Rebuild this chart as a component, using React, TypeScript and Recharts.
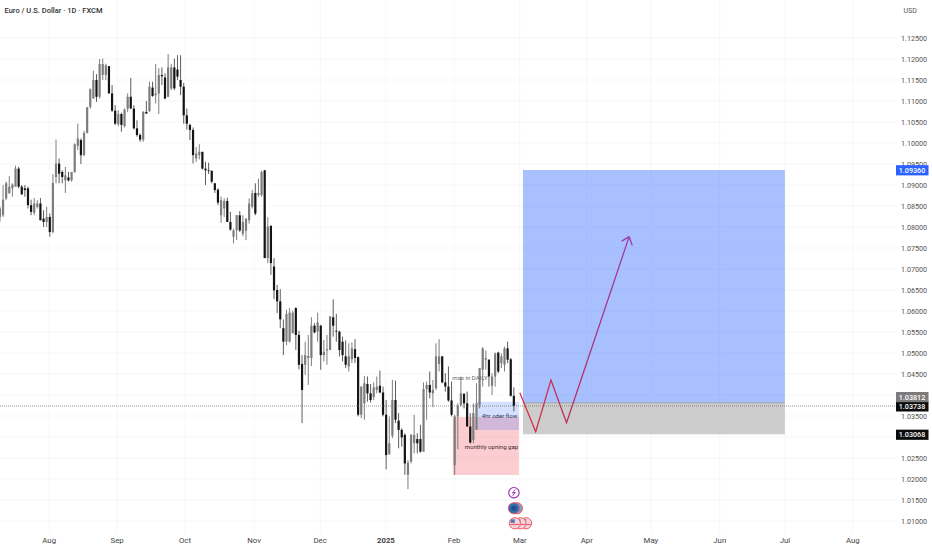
import React from "react";
import {
  Bar, CartesianGrid, ComposedChart, Line, ReferenceArea, ReferenceDot, ReferenceLine, XAxis, YAxis,
} from "recharts";

// Prices are quoted in units of 0.0001 (1 pip); one entry per daily candle.
const opens = [
  10824,10828,10868,10880,10892,10896,10939,10896,10892,10892,10852,10834,10848,10856,10820,10812,10824,10788,10919,10951,
  10931,10911,10918,10911,10931,10993,11007,10971,11024,11086,11106,11150,11110,11162,11162,11183,11118,11077,11045,11069,
  11040,11082,11110,11082,11035,11019,11008,11074,11076,11132,11114,11118,11162,11156,11110,11130,11180,11175,11150,11134,
  11066,11043,11031,10963,10971,10979,10939,10935,10934,10904,10889,10828,10844,10862,10812,10777,10792,10828,10784,10791,
  10816,10848,10881,10876,10876,10935,10726,10803,10706,10650,10623,10559,10527,10527,10547,10607,10543,10474,10472,10488,
  10488,10565,10551,10565,10495,10506,10507,10585,10553,10551,10527,10492,10468,10485,10509,10490,10353,10380,10426,10404,
  10395,10412,10422,10406,10353,10260,10303,10388,10339,10317,10305,10210,10241,10285,10295,10295,10265,10414,10424,10404,
  10416,10474,10492,10430,10420,10387,10233,10349,10376,10403,10380,10325,10293,10317,10376,10460,10484,10484,10422,10444,
  10501,10476,10472,10511,10485,10398,
];
const highs = [
  10848,10900,10908,10921,10904,10946,10943,10900,10900,10896,10865,10869,10864,10869,10840,10848,10832,10926,11008,10963,
  10935,10943,10931,10931,10999,11046,11011,11029,11086,11130,11172,11164,11200,11201,11189,11183,11138,11090,11078,11072,
  11082,11118,11155,11090,11054,11023,11076,11100,11146,11146,11188,11178,11180,11166,11212,11188,11201,11209,11209,11143,
  11082,11046,11037,10991,10997,10979,10955,10953,10934,10905,10892,10872,10868,10870,10836,10796,10828,10838,10828,10820,
  10868,10888,10904,10915,10934,10936,10823,10803,10726,10662,10652,10580,10603,10607,10601,10609,10553,10495,10527,10543,
  10585,10571,10596,10567,10531,10543,10588,10628,10593,10553,10539,10530,10523,10525,10533,10492,10420,10445,10444,10426,
  10430,10444,10458,10420,10388,10349,10436,10434,10357,10321,10309,10245,10307,10353,10309,10329,10430,10432,10456,10436,
  10523,10533,10492,10452,10468,10432,10353,10380,10444,10404,10408,10357,10380,10428,10464,10514,10506,10485,10452,10501,
  10503,10499,10515,10527,10488,10418,
];
const lows = [
  10812,10824,10864,10880,10872,10896,10892,10876,10872,10844,10828,10828,10844,10816,10800,10800,10777,10785,10904,10904,
  10904,10881,10908,10908,10929,10983,10950,10969,11023,11082,11106,11098,11106,11150,11150,11118,11074,11043,11040,11027,
  11037,11074,11082,11032,11015,11003,11003,11070,11074,11110,11094,11069,11138,11104,11110,11126,11126,11150,11114,11046,
  11032,11007,10951,10955,10961,10937,10900,10926,10904,10881,10852,10810,10824,10812,10791,10761,10769,10788,10778,10769,
  10808,10844,10828,10872,10872,10726,10714,10686,10628,10595,10559,10495,10519,10525,10547,10507,10461,10333,10448,10424,
  10469,10547,10527,10460,10480,10472,10523,10539,10527,10492,10480,10464,10456,10476,10476,10349,10345,10341,10384,10382,
  10388,10404,10404,10349,10223,10257,10297,10333,10273,10277,10210,10176,10237,10261,10261,10263,10265,10341,10392,10371,
  10412,10456,10428,10408,10384,10349,10210,10271,10374,10368,10325,10284,10285,10317,10368,10420,10460,10420,10400,10420,
  10452,10464,10456,10476,10396,10361,
];
const closes = [
  10844,10865,10904,10896,10901,10939,10896,10878,10888,10852,10836,10856,10856,10816,10812,10824,10788,10905,10951,10927,
  10919,10923,10911,10931,10997,11011,10971,11024,11085,11128,11150,11110,11188,11188,11185,11118,11077,11046,11069,11043,
  11080,11110,11082,11035,11019,11008,11074,11070,11134,11112,11118,11162,11159,11106,11180,11180,11130,11158,11134,11066,
  11046,11031,10971,10975,10979,10939,10935,10934,10908,10888,10858,10864,10862,10812,10794,10792,10828,10792,10812,10820,
  10856,10880,10832,10881,10931,10726,10801,10714,10649,10623,10580,10527,10593,10596,10596,10543,10472,10412,10495,10493,
  10565,10549,10573,10495,10503,10509,10587,10565,10551,10507,10495,10472,10492,10511,10488,10353,10420,10428,10404,10388,
  10418,10420,10406,10353,10257,10285,10388,10341,10317,10299,10237,10239,10305,10305,10285,10265,10414,10424,10406,10412,
  10492,10492,10430,10420,10387,10353,10349,10374,10404,10380,10325,10287,10357,10380,10464,10511,10488,10444,10444,10499,
  10456,10492,10511,10484,10398,10374,
];

const priceTicks = [
  1.01,1.015,1.02,1.025,1.035,1.045,1.05,1.055,1.06,1.065,1.07,1.075,1.08,1.085,
  1.09,1.095,1.10,1.105,1.11,1.115,1.12,1.125,
];
const gridPrices = [
  1.01,1.015,1.02,1.025,1.03,1.035,1.04,1.045,1.05,1.055,1.06,1.065,1.07,1.075,1.08,1.085,
  1.09,1.095,1.10,1.105,1.11,1.115,1.12,1.125,
];
const monthLabels = ["Aug","Sep","Oct","Nov","Dec","2025","Feb","Mar","Apr","May","Jun","Jul","Aug"];
const monthBars = [15.8,37.6,59.4,81.6,102.8,123.9,145.8,166.9,188.4,209,231.1,252,273.8];
const pathBars = [166.9,172,176.9,181.9,202];
const pathPrices = [1.04055,1.03126,1.04357,1.0334,1.0777];
const barbABars = [199.6,202];
const barbAPrices = [1.07665,1.0777];
const barbBBars = [203,202];
const barbBPrices = [1.0756,1.0777];

const TARGET = 1.0936;
const ENTRY = 1.03812;
const STOP = 1.03068;
const LAST = 1.03738;
const tagValues = [LAST, ENTRY, TARGET, STOP];
const tagFills = ["#0b0b0b", "#7b7b7b", "#2962ff", "#0b0b0b"];
const tagShifts = [0.4, -5.8, 0.4, 0.6];
const FONT = "Roboto, 'Open Sans', sans-serif";

const table = opens.map((o, i) => ({
  i,
  open: o / 10000,
  high: highs[i] / 10000,
  low: lows[i] / 10000,
  close: closes[i] / 10000,
}));
const pathTable = pathBars.map((i, k) => ({ i, path: pathPrices[k] }));
const barbATable = barbABars.map((i, k) => ({ i, barb: barbAPrices[k] }));
const barbBTable = barbBBars.map((i, k) => ({ i, barb: barbBPrices[k] }));

const Candle = (props: any) => {
  const { x, width, y, height, payload } = props;
  const top = Math.min(y, y + height);
  const h = Math.abs(height);
  const { open, close, high, low } = payload;
  const k = h / (high - low || 1);
  const bTop = top + (high - Math.max(open, close)) * k;
  const bH = Math.max(0.8, Math.abs(open - close) * k);
  const up = close >= open;
  const cx = x + width / 2;
  const wick = up ? "#6f6f6f" : "#4a4a4a";
  const body = up ? "#7d7d7d" : "#141414";
  return (
    <g>
      <line x1={cx} x2={cx} y1={top} y2={top + h} stroke={wick} strokeWidth={0.9} />
      <rect x={cx - 1.1} y={bTop} width={2.2} height={bH} fill={body} />
    </g>
  );
};

const MonthTick = (props: any) => {
  const { x, y, payload } = props;
  const k = monthBars.indexOf(payload.value);
  const label = monthLabels[k];
  return (
    <text x={x} y={y + 2} textAnchor="middle" fontFamily={FONT} fontSize={7.8}
      fontWeight={label === "2025" ? 700 : 400} fill="#444">{label}</text>
  );
};

const PriceTick = (props: any) => {
  const { x, y, payload } = props;
  const k = tagValues.indexOf(payload.value);
  if (k >= 0) {
    const left = x - 9;
    const cy = y + tagShifts[k];
    return (
      <g>
        <rect x={left} y={cy - 5.1} width={32.5} height={10.2} fill={tagFills[k]} />
        <text x={left + 16} y={cy + 2.6} textAnchor="middle" fontFamily={FONT} fontSize={7.2}
          fontWeight={500} fill="#fff">{payload.value.toFixed(5)}</text>
      </g>
    );
  }
  return (
    <text x={x - 4} y={y + 2.6} fontFamily={FONT} fontSize={7.2} fill="#555">
      {Number(payload.value).toFixed(5)}
    </text>
  );
};

const note = (text: string, color: string) => ({
  value: text, position: "center" as const, fontSize: 6.1, fontFamily: FONT, fill: color,
});

const Spark = (p: any) => (
  <g>
    <circle cx={p.cx} cy={p.cy} r={5.2} fill="#fff" stroke="#9c27b0" strokeWidth={1.1} />
    <path d={`M${p.cx + 1.3} ${p.cy - 3.2}L${p.cx - 1.6} ${p.cy + 0.4}L${p.cx + 1.4} ${p.cy - 0.4}L${p.cx - 1.3} ${p.cy + 3.2}`}
      fill="none" stroke="#9c27b0" strokeWidth={0.9} />
  </g>
);
const Coin = (p: any) => (
  <g>
    <circle cx={p.cx + 3} cy={p.cy} r={5.6} fill="#7f9fd0" stroke="#ef5a6a" strokeWidth={1} />
    <circle cx={p.cx} cy={p.cy} r={5.6} fill="#2f6fb0" stroke="#ef5a6a" strokeWidth={1} />
    <circle cx={p.cx} cy={p.cy} r={2.6} fill="#1f4f8f" />
  </g>
);
const Flag = (p: any) => (
  <g>
    <circle cx={p.cx} cy={p.cy} r={5.6} fill="#f6d5d9" stroke="#ef5a6a" strokeWidth={1} />
    <rect x={p.cx - 4.2} y={p.cy - 4} width={4.2} height={3.6} fill="#5a78b8" />
    <rect x={p.cx - 4.6} y={p.cy + 0.6} width={9.2} height={1.2} fill="#e8606f" />
  </g>
);

export default function App() {
  return (
    <div style={{ position: "absolute", left: 0, top: 0, width: 932, height: 550, background: "#fff", overflow: "hidden" }}>
      <ComposedChart width={932} height={550} data={table} barSize={3}
        margin={{ top: 0, right: 0, bottom: 0, left: 0 }}>
        <defs>
          <linearGradient id="pathGrad" x1="0" y1="0" x2="1" y2="0">
            <stop offset="0%" stopColor="#d8333f" />
            <stop offset="45%" stopColor="#b8305c" />
            <stop offset="100%" stopColor="#9a3ca6" />
          </linearGradient>
        </defs>
        <CartesianGrid stroke="#f7f7f7" strokeWidth={1} horizontalValues={gridPrices} verticalValues={monthBars} />
        <XAxis dataKey="i" type="number" domain={[0, 288]} ticks={monthBars} tick={<MonthTick />}
          tickLine={false} axisLine={false} height={17} interval={0} allowDataOverflow />
        <YAxis orientation="right" type="number" domain={[1.00714, 1.13405]} ticks={[...priceTicks, ...tagValues]} tick={<PriceTick />}
          tickLine={false} axisLine={false} width={35} interval={0} allowDataOverflow />

        <ReferenceArea x1={145.4} x2={166.6} y1={1.02095} y2={1.03476} fill="#f23645" fillOpacity={0.25} stroke="none" />
        <ReferenceArea x1={153} x2={166.6} y1={1.03167} y2={1.0384} fill="#2962ff" fillOpacity={0.2} stroke="none" />
        <ReferenceArea x1={167.9} x2={252} y1={ENTRY} y2={TARGET} fill="#2962ff" fillOpacity={0.4} stroke="none" />
        <ReferenceArea x1={167.9} x2={252} y1={STOP} y2={ENTRY} fill="#b2b2b2" fillOpacity={0.65} stroke="none" />
        <ReferenceLine segment={[{ x: 167.9, y: ENTRY }, { x: 252, y: ENTRY }]} stroke="#9a9a9a" strokeWidth={0.8} />

        <Bar dataKey={(d: any) => [d.low, d.high]} shape={<Candle />} isAnimationActive={false} />

        <Line data={pathTable} dataKey="path" stroke="url(#pathGrad)" strokeWidth={1.3} dot={false} activeDot={false}
          isAnimationActive={false} legendType="none" />
        <Line data={barbATable} dataKey="barb" stroke="#9a3ca6" strokeWidth={1.3} dot={false} activeDot={false}
          isAnimationActive={false} legendType="none" />
        <Line data={barbBTable} dataKey="barb" stroke="#9a3ca6" strokeWidth={1.3} dot={false} activeDot={false}
          isAnimationActive={false} legendType="none" />

        <ReferenceLine y={LAST} stroke="#777" strokeWidth={0.8} strokeDasharray="1 1" />

        <ReferenceDot x={150.9} y={1.04405} r={0} stroke="none" fill="none" label={note("mss in DAILY", "#666")} />
        <ReferenceDot x={160.4} y={1.035} r={0} stroke="none" fill="none" label={note("4hr oder flow", "#333a55")} />
        <ReferenceDot x={157.8} y={1.02769} r={0} stroke="none" fill="none" label={note("monthly opning gap", "#402a30")} />

        <ReferenceDot x={165} y={1.01673} shape={<Spark />} />
        <ReferenceDot x={165} y={1.01303} shape={<Coin />} />
        <ReferenceDot x={168.9} y={1.00945} shape={<Flag />} />
        <ReferenceDot x={167.1} y={1.00945} shape={<Flag />} />
        <ReferenceDot x={165.3} y={1.00945} shape={<Flag />} />
      </ComposedChart>
      <div style={{ position: "absolute", left: 4.5, top: 5.5, fontFamily: FONT, fontSize: 7.5, fontWeight: 500, color: "#333", whiteSpace: "nowrap" }}>
        Euro / U.S. Dollar · 1D · FXCM
      </div>
      <div style={{ position: "absolute", left: 903.5, top: 7, fontFamily: FONT, fontSize: 7, color: "#555" }}>USD</div>
    </div>
  );
}
